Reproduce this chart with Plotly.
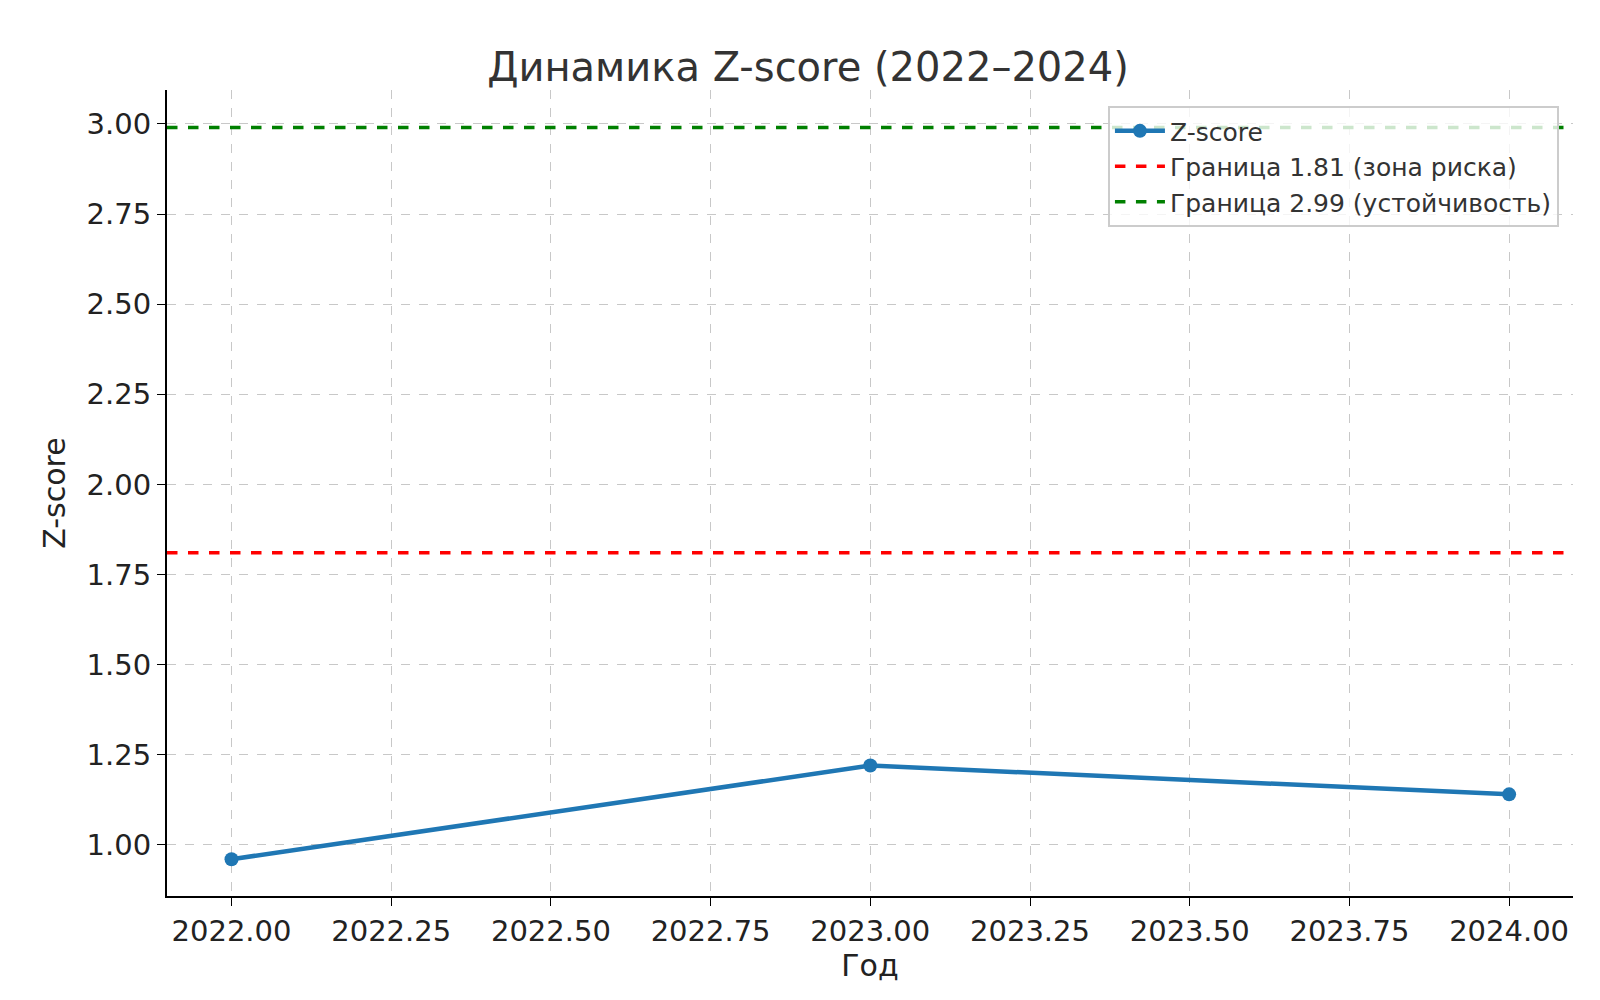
import plotly.graph_objects as go

years = [2022, 2023, 2024]
zscore = [0.96, 1.22, 1.14]
risk_level = 1.81
stable_level = 2.99
x_ticks = [2022.0, 2022.25, 2022.5, 2022.75, 2023.0, 2023.25, 2023.5, 2023.75, 2024.0]
y_ticks = [1.0, 1.25, 1.5, 1.75, 2.0, 2.25, 2.5, 2.75, 3.0]

xr = [2021.899, 2024.1]
fig = go.Figure()
fig.add_trace(go.Scatter(x=years, y=zscore, mode="lines+markers", name="Z-score",
                         line=dict(color="#1f77b4", width=4.5), marker=dict(size=14, color="#1f77b4")))
fig.add_trace(go.Scatter(x=xr, y=[risk_level]*2, mode="lines", name="Граница 1.81 (зона риска)",
                         line=dict(color="red", width=3.5, dash="dash")))
fig.add_trace(go.Scatter(x=xr, y=[stable_level]*2, mode="lines", name="Граница 2.99 (устойчивость)",
                         line=dict(color="green", width=3.5, dash="dash")))

axis_common = dict(showgrid=True, gridcolor="#c8c8c8", griddash="dash", gridwidth=1,
                   showline=True, linecolor="black", linewidth=2, ticks="outside",
                   ticklen=8, tickcolor="black", zeroline=False,
                   tickfont=dict(size=29, color="#222"), mirror=False)
fig.update_layout(
    width=1600, height=1000, template="none", plot_bgcolor="white", paper_bgcolor="white",
    font=dict(family="DejaVu Sans", color="#222"),
    title=dict(text="Динамика Z-score (2022–2024)", x=0.5, xanchor="center", y=0.955,
               font=dict(size=40, color="#333")),
    margin=dict(l=159, r=35, t=82, b=112),
    xaxis=dict(range=xr, tickvals=x_ticks, ticktext=[f"{v:.2f}" for v in x_ticks],
               title=dict(text="Год", font=dict(size=30), standoff=8), **axis_common),
    yaxis=dict(range=[0.858, 3.094], tickvals=y_ticks, ticktext=[f"{v:.2f}" for v in y_ticks],
               title=dict(text="Z-score", font=dict(size=30), standoff=12), **axis_common),
    legend=dict(x=0.99, y=0.98, xanchor="right", yanchor="top", bgcolor="rgba(255,255,255,0.8)",
                bordercolor="#ccc", borderwidth=2, font=dict(size=25, color="#333"),
                itemwidth=50),
)
fig.write_html("out.html")
